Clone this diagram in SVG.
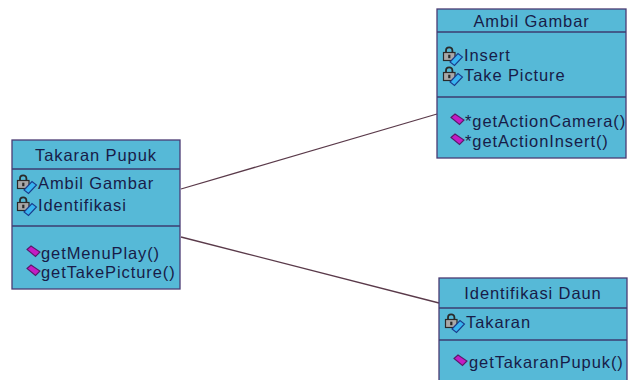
<svg xmlns="http://www.w3.org/2000/svg" xmlns:xlink="http://www.w3.org/1999/xlink" width="630" height="380" viewBox="0 0 630 380">
  <style>
    .box { fill: #56b9d7; stroke: #4b3b73; stroke-width: 1.3; }
    .sep { stroke: #3c3c70; stroke-width: 1.3; }
    .t { font-family: "Liberation Sans", Arial, sans-serif; font-size: 16.5px; letter-spacing: 0.9px; fill: #181c48; }
    .title { text-anchor: middle; }
    .conn { stroke: #5a3a4a; stroke-width: 1.3; fill: none; }
  </style>
  <defs>
    <g id="attrIcon">
      <path d="M4,6.5 V4.5 A3.2,3.2 0 0 1 10.4,4.5 V6.5" fill="none" stroke="#2a2a2a" stroke-width="1.8"/>
      <rect x="1.5" y="6.5" width="11.5" height="8" fill="#a8a8a8" stroke="#2a2a2a" stroke-width="1.2"/>
      <rect x="6.2" y="8.7" width="2.2" height="3.5" fill="#2a2a2a"/>
      <polygon points="8,16 16,7.5 20.5,11 12.5,19.5" fill="#38b4f0" stroke="#1a3c8c" stroke-width="1.1"/>
    </g>
    <g id="opIcon">
      <polygon points="0,3.5 4,0 13,6 8.5,10.5" fill="#c41cc4" stroke="#5a1a6a" stroke-width="1.1"/>
    </g>
  </defs>

  <g id="connectors">
    <line class="conn" x1="181" y1="189" x2="437" y2="114"/>
    <line class="conn" x1="181" y1="237" x2="439" y2="303"/>
  </g>

  <g id="takaran-pupuk">
    <rect class="box" x="12" y="140" width="168" height="149"/>
    <line class="sep" x1="12" y1="169" x2="180" y2="169"/>
    <line class="sep" x1="12" y1="226" x2="180" y2="226"/>
    <text class="t title" x="96" y="161">Takaran Pupuk</text>
    <use xlink:href="#attrIcon" x="16" y="174"/>
    <text class="t" x="38" y="189">Ambil Gambar</text>
    <use xlink:href="#attrIcon" x="16" y="196"/>
    <text class="t" x="38" y="211">Identifikasi</text>
    <use xlink:href="#opIcon" x="27" y="246"/>
    <text class="t" x="41" y="259">getMenuPlay()</text>
    <use xlink:href="#opIcon" x="27" y="265"/>
    <text class="t" x="41" y="278">getTakePicture()</text>
  </g>

  <g id="ambil-gambar">
    <rect class="box" x="437" y="9" width="189" height="149"/>
    <line class="sep" x1="437" y1="32" x2="626" y2="32"/>
    <line class="sep" x1="437" y1="97" x2="626" y2="97"/>
    <text class="t title" x="531.5" y="27">Ambil Gambar</text>
    <use xlink:href="#attrIcon" x="442" y="46"/>
    <text class="t" x="464" y="61">Insert</text>
    <use xlink:href="#attrIcon" x="442" y="66"/>
    <text class="t" x="464" y="81">Take Picture</text>
    <use xlink:href="#opIcon" x="451" y="114"/>
    <text class="t" x="465" y="127">*getActionCamera()</text>
    <use xlink:href="#opIcon" x="451" y="134"/>
    <text class="t" x="465" y="147">*getActionInsert()</text>
  </g>

  <g id="identifikasi-daun">
    <rect class="box" x="439" y="278" width="188" height="110"/>
    <line class="sep" x1="439" y1="308" x2="627" y2="308"/>
    <line class="sep" x1="439" y1="340" x2="627" y2="340"/>
    <text class="t title" x="533" y="299">Identifikasi Daun</text>
    <use xlink:href="#attrIcon" x="444" y="313"/>
    <text class="t" x="466" y="328">Takaran</text>
    <use xlink:href="#opIcon" x="454" y="355"/>
    <text class="t" x="469" y="368">getTakaranPupuk()</text>
  </g>
</svg>
